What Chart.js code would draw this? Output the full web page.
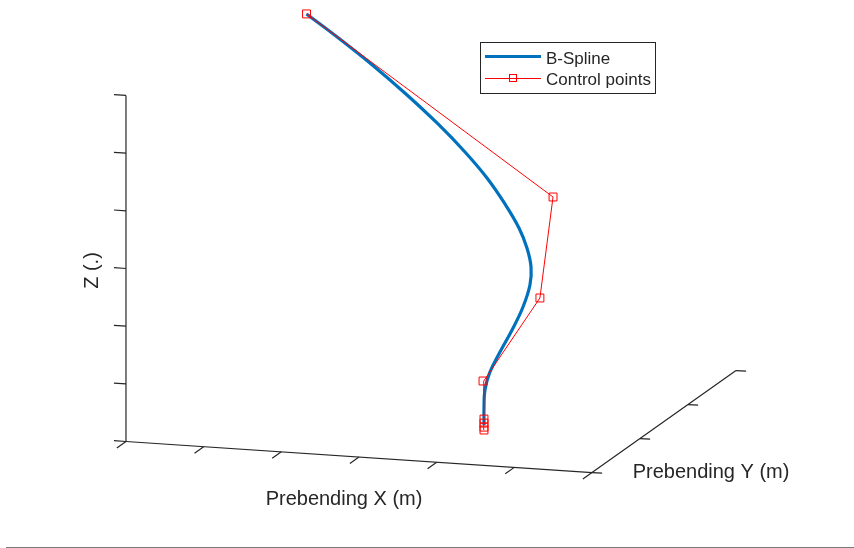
<!DOCTYPE html>
<html>
<head>
<meta charset="utf-8">
<script src="https://cdn.jsdelivr.net/npm/chart.js@4.4.1/dist/chart.umd.min.js"></script>
<style>
  body { margin: 0; background: #fff; }
  #wrap { width: 854px; height: 548px; position: relative; }
</style>
</head>
<body>
<div id="wrap"><canvas id="myChart"></canvas></div>
<script>
// blade prebend: spline samples, root to tip (x, y, z)
var splineX = [4.011, 3.971, 3.942, 3.964, 4.047, 4.151, 4.238, 4.277, 4.249, 4.152, 4.003, 3.767, 3.475, 3.131, 2.719, 2.236, 1.736, 1.237, 0.770]
var splineY = [0.969, 1.033, 1.100, 1.168, 1.243, 1.326, 1.413, 1.495, 1.563, 1.635, 1.710, 1.800, 1.898, 1.996, 2.101, 2.214, 2.323, 2.425, 2.515]
var splineZ = [0.074, 0.328, 0.598, 0.872, 1.182, 1.524, 1.879, 2.216, 2.485, 2.764, 3.053, 3.395, 3.762, 4.124, 4.511, 4.921, 5.315, 5.678, 6.000]

// control polygon
var ctrlX = [4.022, 4.022, 4.022, 4.022, 3.896, 4.435, 4.369, 0.770]
var ctrlY = [0.950, 0.950, 0.950, 0.950, 1.134, 1.447, 1.827, 2.515]
var ctrlZ = [0.000, 0.050, 0.120, 0.190, 0.730, 2.033, 3.554, 6.000]

var xTicks = [0, 1, 2, 3, 4, 5, 6]
var yTicks = [0, 1, 2, 3]
var zTicks = [0, 1, 2, 3, 4, 5, 6]

var seriesNames = ['B-Spline', 'Control points']
var axisNames = ['Prebending X (m)', 'Prebending Y (m)', 'Z (.)']

var blue = '#0072BD'
var red = '#FF0000'
var ink = '#262626'
var font = '"Liberation Sans", Arial, Helvetica, sans-serif'

// 3-D view -> 2-D plane
function project(x, y, z) {
  return { x: x + 0.618 * y, y: -0.0666 * x + 0.4378 * y + 0.7425 * z }
}

function toPoints(xs, ys, zs) {
  return xs.map(function (v, i) { return project(v, ys[i], zs[i]) })
}

var xMax = xTicks[xTicks.length - 1]
var yMax = yTicks[yTicks.length - 1]
var zMax = zTicks[zTicks.length - 1]

var box3d = {
  id: 'box3d',
  beforeDatasetsDraw: function (chart) {
    var c = chart.ctx
    var sx = chart.scales.x
    var sy = chart.scales.y
    function px(x, y, z) {
      var p = project(x, y, z)
      return [sx.getPixelForValue(p.x), sy.getPixelForValue(p.y)]
    }
    function seg(a, b) {
      c.beginPath()
      c.moveTo(a[0], a[1])
      c.lineTo(b[0], b[1])
      c.stroke()
    }
    c.save()
    c.strokeStyle = ink
    c.lineWidth = 1.2

    // axis lines
    seg(px(0, 0, 0), px(0, 0, zMax))
    seg(px(0, 0, 0), px(xMax, 0, 0))
    seg(px(xMax, 0, 0), px(xMax, yMax, 0))

    // ticks
    zTicks.forEach(function (t) { seg(px(0, 0, t), px(-0.155, 0, t)) })
    xTicks.forEach(function (t) { seg(px(t, 0, 0), px(t, -0.19, 0)) })
    yTicks.forEach(function (t) { seg(px(xMax, t, 0), px(xMax + 0.13, t, 0)) })

    // axis titles
    c.fillStyle = ink
    c.font = '20px ' + font
    c.textAlign = 'center'
    c.textBaseline = 'alphabetic'
    var mx = px(xMax / 2, 0, 0)
    c.fillText(axisNames[0], mx[0] - 15, mx[1] + 48)
    var my = px(xMax, yMax / 2, 0)
    c.fillText(axisNames[1], my[0] + 47, my[1] + 56)
    var mz = px(0, 0, zMax / 2)
    c.save()
    c.translate(mz[0] - 33, mz[1] + 2)
    c.rotate(-Math.PI / 2)
    c.textBaseline = 'middle'
    c.fillText(axisNames[2], 0, 0)
    c.restore()

    // frame line along the bottom of the figure
    c.fillStyle = '#7a7a7a'
    c.fillRect(6, chart.height - 1, chart.width - 6, 1)
    c.restore()
  },
  afterDatasetsDraw: function (chart) {
    var c = chart.ctx
    c.save()
    c.fillStyle = '#fff'
    c.fillRect(480, 42, 175, 51)
    c.strokeStyle = ink
    c.lineWidth = 1
    c.strokeRect(480.5, 42.5, 175, 51)

    c.strokeStyle = blue
    c.lineWidth = 3
    c.beginPath()
    c.moveTo(485, 56.5)
    c.lineTo(541, 56.5)
    c.stroke()

    c.strokeStyle = red
    c.lineWidth = 1
    c.beginPath()
    c.moveTo(485, 78.5)
    c.lineTo(541, 78.5)
    c.stroke()
    c.strokeRect(509.5, 74.5, 7, 7)

    c.fillStyle = ink
    c.font = '17px ' + font
    c.textAlign = 'left'
    c.fillText(seriesNames[0], 546, 64)
    c.fillText(seriesNames[1], 546, 85)
    c.restore()
  }
}

new Chart('myChart', {
  type: 'scatter',
  data: {
    datasets: [
      {
        label: seriesNames[1],
        data: toPoints(ctrlX, ctrlY, ctrlZ),
        showLine: true,
        borderColor: red,
        borderWidth: 1,
        tension: 0,
        pointStyle: 'rect',
        pointRadius: 5.6,
        pointBorderWidth: 1,
        pointBorderColor: red,
        pointBackgroundColor: 'rgba(0,0,0,0)',
        order: 0,
      },
      {
        label: seriesNames[0],
        data: toPoints(splineX, splineY, splineZ),
        showLine: true,
        borderColor: blue,
        borderWidth: 3.2,
        tension: 0.4,
        pointRadius: 0,
        order: 1,
      },
    ],
  },
  options: {
    responsive: true,
    maintainAspectRatio: false,
    animation: false,
    events: [],
    layout: { padding: 0, autoPadding: false },
    scales: {
      x: { type: 'linear', display: false, min: -1.622, max: 9.373 },
      y: { type: 'linear', display: false, min: -1.371, max: 5.684 },
    },
    plugins: {
      legend: { display: false },
      tooltip: { enabled: false },
    },
  },
  plugins: [box3d],
})
</script>
</body>
</html>
